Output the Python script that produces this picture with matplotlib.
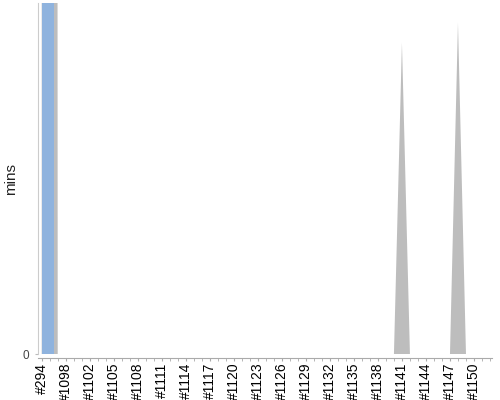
import matplotlib
matplotlib.use('Agg')
import matplotlib.pyplot as plt

plt.rcParams['font.family'] = 'sans-serif'
plt.rcParams['font.sans-serif'] = ['Liberation Sans', 'Arial', 'DejaVu Sans']

builds = ['#294', '#1096', '#1097', '#1098', '#1099', '#1100'] + \
         ['#%d' % n for n in range(1102, 1153)]

# gray series (mins), huge value on the first builds runs off the top
gray_mins = [5000, 5000] + [0] * (len(builds) - 2)
gray_mins[builds.index('#1141')] = 88.7
gray_mins[builds.index('#1148')] = 94.4

# blue series, only on the first build
blue_mins = [5000]

x = list(range(len(builds)))

fig = plt.figure(figsize=(5, 4), dpi=100)
ax = fig.add_axes([0.0754, 0.114, 0.9086, 0.8785])

ax.fill_between(x, gray_mins, 0, color='#bdbdbd', linewidth=0, zorder=2)
ax.bar([0], blue_mins, width=1.55, align='edge', color='#8fb3de', linewidth=0, zorder=3)

ax.set_xlim(-0.5, len(builds) - 1 + 0.25)
ax.set_ylim(0, 100)

ax.set_xticks(x, minor=True)
ax.set_xticks(x[::3])
ax.set_xticklabels(builds[::3], fontsize=6.0, color='#111111')
ax.tick_params(axis='x', which='both', length=2.5, color='#aaaaaa', pad=0.6,
               labelrotation=90)

ax.set_yticks([0])
ax.set_yticklabels(['0'], fontsize=8.5, color='#444444')
ax.tick_params(axis='y', length=2, color='#bbbbbb', pad=4)
ax.set_ylabel('mins', fontsize=11, color='#222222')
ax.yaxis.set_label_coords(-0.043, 0.5)

for side in ['top', 'right']:
    ax.spines[side].set_visible(False)
ax.spines['left'].set_color('#cccccc')
ax.spines['bottom'].set_color('#aaaaaa')
ax.spines['bottom'].set_position(('outward', 2.8))

fig.savefig('out.png')
